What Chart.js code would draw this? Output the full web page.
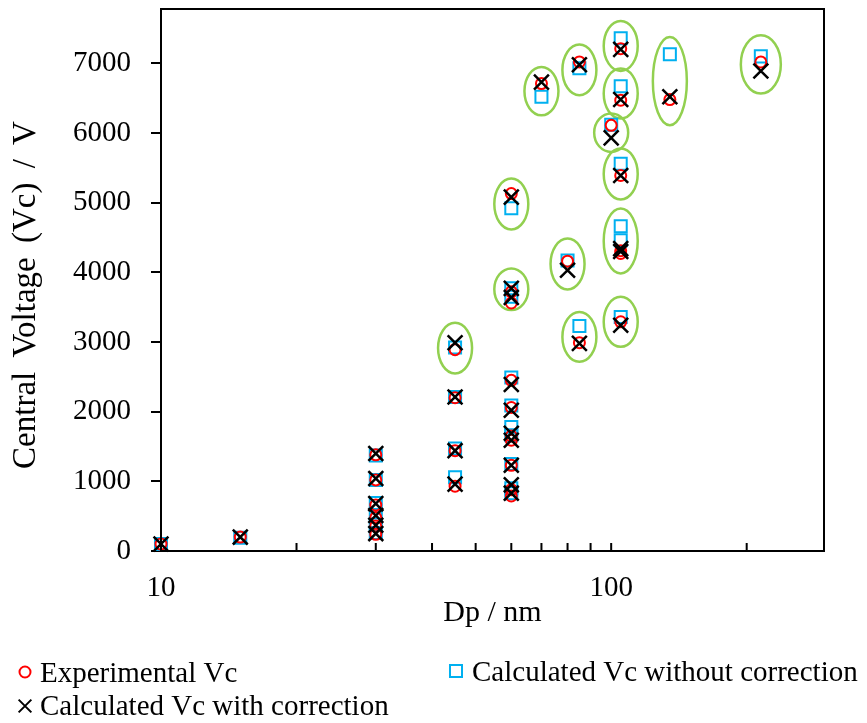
<!DOCTYPE html>
<html>
<head>
<meta charset="utf-8">
<script src="https://cdn.jsdelivr.net/npm/chart.js@4.4.0/dist/chart.umd.min.js"></script>
<style>
html, body { margin: 0; padding: 0; background: #fff; }
#wrap { position: relative; width: 867px; height: 723px; }
</style>
</head>
<body>
<div id="wrap"><canvas id="chart" width="867" height="723"></canvas></div>
<script>
// particle diameter (nm) of each measured point
const dp = [10, 15, 30, 30, 30, 30, 30, 30, 45, 45, 45, 45,
            60, 60, 60, 60, 60, 60, 60, 60, 60, 60,
            70, 80, 85, 85, 100, 105, 105, 105, 105, 105, 105, 135, 215];
// central voltage (V)
const vcExperimental = [100, 200, 1380, 1020, 660, 480, 360, 240, 930, 1440, 2200, 2890,
            790, 880, 1230, 1590, 1650, 2060, 2450, 3560, 3720, 5130,
            6710, 4160, 2990, 7020, 6110, 3290, 4270, 4310, 5390, 6470, 7210, 6480, 7020];
const vcNoCorrection = [100, 190, 1370, 1020, 690, 490, 380, 260, 1060, 1470, 2210, 2920,
            830, 900, 1250, 1660, 1780, 2090, 2490, 3650, 3770, 4920,
            6520, 4170, 3230, 6930, 6120, 3360, 4460, 4660, 5560, 6670, 7360, 7130, 7100];
const vcWithCorrection = [100, 200, 1400, 1040, 680, 510, 370, 250, 960, 1440, 2210, 2990,
            830, 950, 1230, 1590, 1690, 2020, 2390, 3640, 3770, 5080,
            6730, 4030, 2980, 6980, 5930, 3240, 4300, 4340, 5390, 6480, 7200, 6520, 6890];

const yTicks = [0, 1000, 2000, 3000, 4000, 5000, 6000, 7000];
const xTickMarks = [10, 20, 30, 40, 50, 60, 70, 80, 90, 100, 200];
const xTickLabels = [10, 100];

// circled groups: diameter and the voltage span each ellipse covers
const groupDp   = [45, 60, 60, 70, 80, 85, 85, 100, 105, 105, 105, 105, 105, 135, 215];
const groupVcLo = [2549, 4615, 3458, 6255, 3755, 6542, 2716, 5729, 6891, 6208, 5046, 3984, 2931, 6112, 6567];
const groupVcHi = [3276, 5347, 4056, 6948, 4486, 7270, 3431, 6280, 7608, 6925, 5778, 4917, 3649, 7379, 7403];

const FONT = 'Liberation Serif, Times New Roman, serif';

function points(ys) {
    return dp.map((d, i) => ({ x: d, y: ys[i] }));
}

// no extra room for labels overhanging the axis ends
function noOverhang(s) {
    s.paddingTop = 0;
    s.paddingBottom = 0;
    s.paddingLeft = 0;
    s.paddingRight = 0;
}

const ellipsePlugin = {
    id: 'groupEllipses',
    beforeDatasetsDraw(chart) {
        const { ctx, scales: { x, y } } = chart;
        ctx.save();
        ctx.strokeStyle = '#92d050';
        ctx.lineWidth = 2.5;
        groupDp.forEach((d, i) => {
            const cx = x.getPixelForValue(d);
            const top = y.getPixelForValue(groupVcHi[i]);
            const bottom = y.getPixelForValue(groupVcLo[i]);
            const rx = d > 200 ? 20 : 17;
            ctx.beginPath();
            ctx.ellipse(cx, (top + bottom) / 2, rx, (bottom - top) / 2, 0, 0, Math.PI * 2);
            ctx.stroke();
        });
        ctx.restore();
    }
};

// frame, inward x ticks, y title and legend
const framePlugin = {
    id: 'frame',
    afterDraw(chart) {
        const { ctx, chartArea: a, scales: { x } } = chart;
        ctx.save();
        ctx.strokeStyle = '#000';
        ctx.lineWidth = 2;
        ctx.strokeRect(a.left, a.top, a.right - a.left, a.bottom - a.top);
        ctx.beginPath();
        xTickMarks.forEach(v => {
            const px = x.getPixelForValue(v);
            ctx.moveTo(px, a.bottom);
            ctx.lineTo(px, a.bottom - 8);
        });
        ctx.stroke();

        ctx.fillStyle = '#000';
        ctx.font = '33px ' + FONT;
        ctx.wordSpacing = '6px';
        ctx.translate(26, 295);
        ctx.rotate(-Math.PI / 2);
        ctx.textAlign = 'center';
        ctx.textBaseline = 'middle';
        ctx.fillText('Central Voltage (Vc) / V', 0, 0);
        ctx.restore();

        // legend
        const items = [
            { ds: 1, x: 25, y: 672, tx: 40, ty: 682 },
            { ds: 2, x: 456, y: 671, tx: 472, ty: 681 },
            { ds: 0, x: 25, y: 706, tx: 40, ty: 715 }
        ];
        ctx.save();
        ctx.font = '29px ' + FONT;
        ctx.textBaseline = 'alphabetic';
        items.forEach(it => {
            const d = chart.data.datasets[it.ds];
            ctx.strokeStyle = d.borderColor;
            ctx.fillStyle = 'rgba(0,0,0,0)';
            ctx.lineWidth = 2;
            Chart.helpers.drawPoint(ctx, {
                pointStyle: d.pointStyle,
                radius: d.legendRadius,
                rotation: 0,
                borderWidth: 2
            }, it.x, it.y);
            ctx.fillStyle = '#000';
            ctx.fillText(d.label, it.tx, it.ty);
        });
        ctx.restore();
    }
};

new Chart(document.getElementById('chart').getContext('2d'), {
    type: 'scatter',
    data: {
        datasets: [
            {
                label: 'Calculated Vc with correction',
                data: points(vcWithCorrection),
                pointStyle: 'crossRot',
                pointRadius: 10.5,
                legendRadius: 9,
                pointBorderWidth: 2.5,
                borderColor: '#000000',
                backgroundColor: '#000000',
                clip: false,
                order: 0
            },
            {
                label: 'Experimental Vc',
                data: points(vcExperimental),
                pointStyle: 'circle',
                pointRadius: 5.5,
                legendRadius: 5.5,
                pointBorderWidth: 2,
                borderColor: '#ff0000',
                backgroundColor: 'rgba(0,0,0,0)',
                clip: false,
                order: 1
            },
            {
                label: 'Calculated Vc without correction',
                data: points(vcNoCorrection),
                pointStyle: 'rect',
                pointRadius: 8.5,
                legendRadius: 8.5,
                pointBorderWidth: 2,
                borderColor: '#00b0f0',
                backgroundColor: 'rgba(0,0,0,0)',
                clip: false,
                order: 2
            }
        ]
    },
    options: {
        responsive: false,
        animation: false,
        layout: { autoPadding: false, padding: { top: 9, right: 43, left: 0, bottom: 92 } },
        plugins: {
            legend: { display: false },
            tooltip: { enabled: false }
        },
        scales: {
            x: {
                type: 'logarithmic',
                position: 'bottom',
                min: 10,
                max: 297,
                afterBuildTicks: s => { s.ticks = xTickLabels.map(v => ({ value: v })); },
                afterFit: s => { s.height = 80; noOverhang(s); },
                grid: { display: false, drawTicks: false },
                border: { display: true, color: '#000', width: 2 },
                ticks: {
                    color: '#000',
                    font: { family: FONT, size: 29 },
                    padding: 20,
                    autoSkip: false,
                    maxRotation: 0,
                    callback: v => String(v)
                },
                title: {
                    display: true,
                    text: 'Dp / nm',
                    color: '#000',
                    font: { family: FONT, size: 30 },
                    padding: { top: 0, bottom: 0 }
                }
            },
            y: {
                min: 0,
                max: 7780,
                afterBuildTicks: s => { s.ticks = yTicks.map(v => ({ value: v })); },
                afterFit: s => { s.width = 161; noOverhang(s); },
                grid: { drawOnChartArea: false, drawTicks: true, tickLength: 10, color: '#000', lineWidth: 2 },
                border: { display: true, color: '#000', width: 2 },
                ticks: {
                    color: '#000',
                    font: { family: FONT, size: 29 },
                    padding: 20,
                    callback: v => String(v)
                },
                title: { display: false }
            }
        }
    },
    plugins: [ellipsePlugin, framePlugin]
});
</script>
</body>
</html>
